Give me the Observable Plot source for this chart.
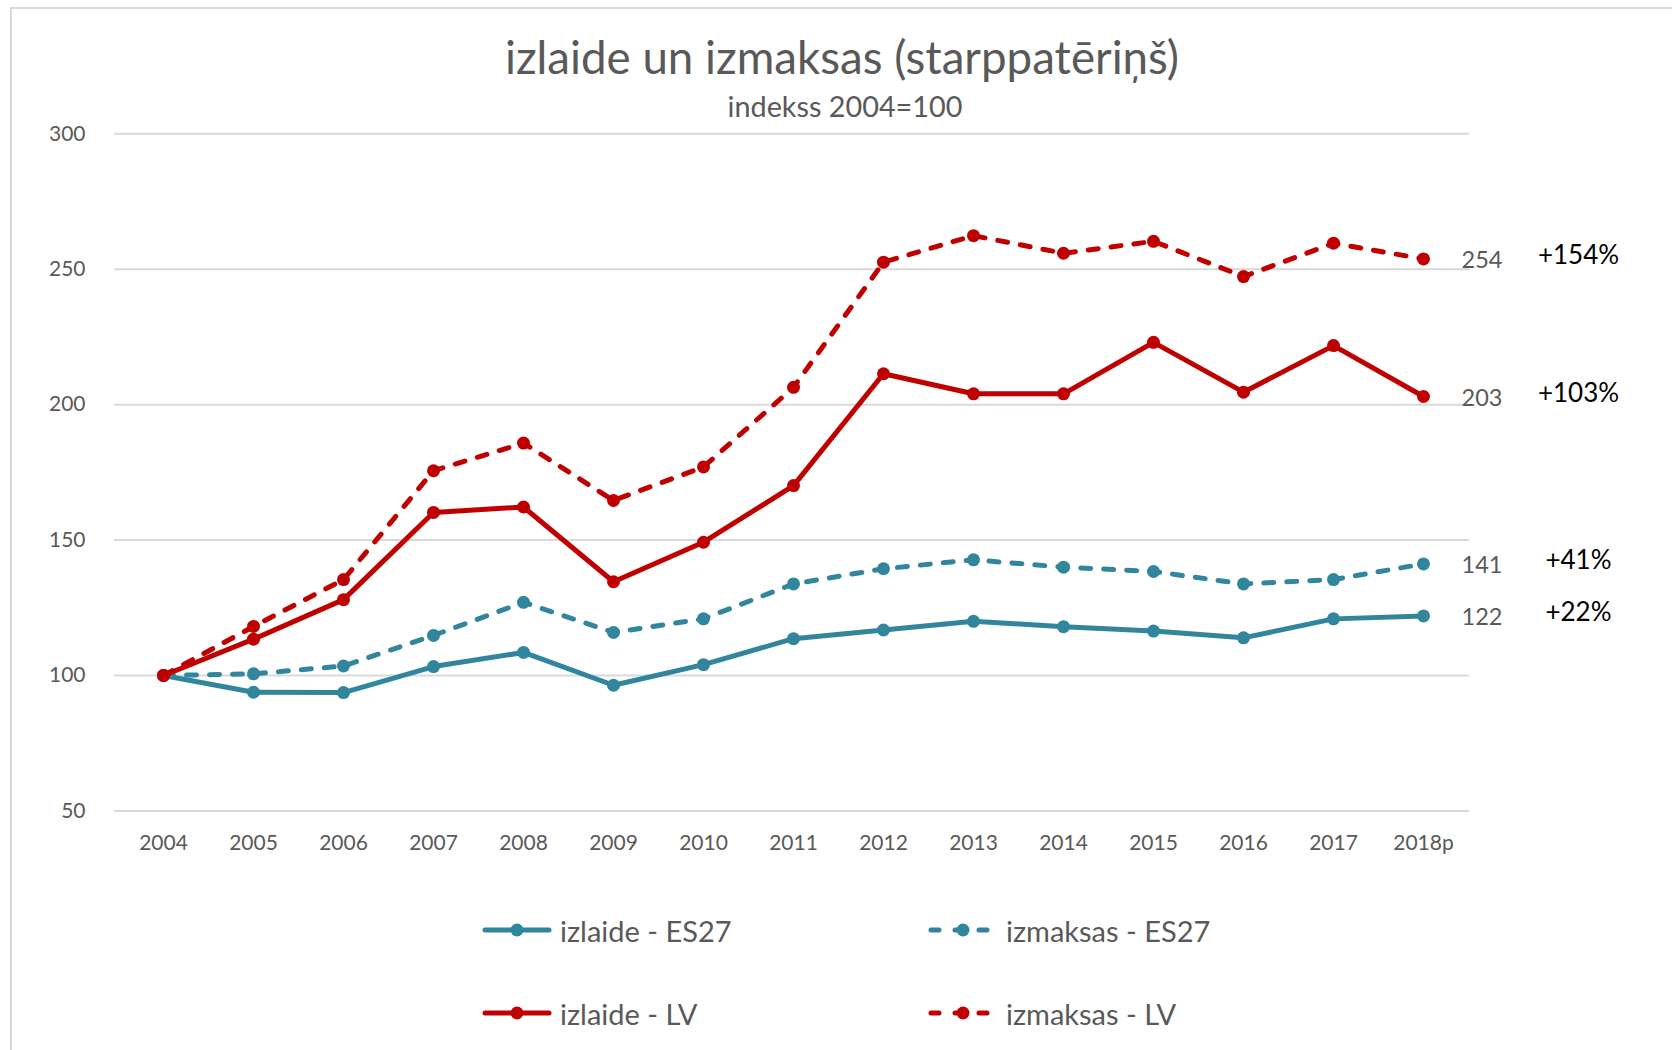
<!DOCTYPE html>
<html>
<head>
<meta charset="utf-8">
<script src="https://cdn.jsdelivr.net/npm/d3@7"></script>
<script src="https://cdn.jsdelivr.net/npm/@observablehq/plot@0.6"></script>
<style>
  html, body { margin: 0; padding: 0; background: #fff; }
  body { width: 1672px; height: 1050px; overflow: hidden; font-family: Lato, "Open Sans", sans-serif; }
  #frame { position: absolute; left: 10px; top: 7px; width: 1800px; height: 1200px;
           border-left: 2px solid #d9d9d9; border-top: 2px solid #d9d9d9; }
  #wrap { position: absolute; left: 0; top: 0; width: 1672px; height: 1050px; }
  #header { position: relative; height: 118px; width: 1672px; }
  #title { position: absolute; left: 0; width: 1684px; top: 35px; text-align: center;
           font-size: 45.7px; line-height: 44px; color: #595959; }
  #subtitle { position: absolute; left: 0; width: 1690px; top: 92px; text-align: center;
              font-size: 28.8px; line-height: 28px; color: #595959; }
  #chart svg { display: block; }
  .leg { position: absolute; display: flex; align-items: center; font-size: 29px; color: #595959; }
  .leg svg { margin-right: 8px; }
</style>
</head>
<body>
<div id="frame"></div>
<div id="wrap">
  <div id="header">
    <div id="title">izlaide un izmaksas (starppatēriņš)</div>
    <div id="subtitle">indekss 2004=100</div>
  </div>
  <div id="chart"></div>
  <div id="legend"></div>
</div>
<script>
const years = ["2004","2005","2006","2007","2008","2009","2010","2011","2012","2013","2014","2015","2016","2017","2018p"];
const izlaideES27  = [100, 93.8, 93.7, 103.3, 108.5, 96.4, 104, 113.6, 116.8, 120, 118, 116.4, 113.9, 120.9, 122];
const izmaksasES27 = [100, 100.6, 103.5, 114.8, 127, 115.9, 120.9, 133.8, 139.4, 142.7, 140, 138.4, 133.8, 135.4, 141.2];
const izlaideLV    = [100, 113.4, 128, 160.2, 162.2, 134.6, 149.2, 170.1, 211.4, 204, 204, 223, 204.6, 221.8, 203];
const izmaksasLV   = [100, 118.1, 135.4, 175.6, 185.8, 164.6, 177, 206.4, 252.6, 262.4, 255.9, 260.3, 247.3, 259.6, 253.8];
const seriesNames  = ["izlaide - ES27", "izmaksas - ES27", "izlaide - LV", "izmaksas - LV"];
const endLabels    = ["122", "141", "203", "254"];
const endChanges   = ["+22%", "+41%", "+103%", "+154%"];
const yTicks = [50, 100, 150, 200, 250, 300];

const teal = "#31859C", red = "#C00000";
const series = [
  {name: seriesNames[0], values: izlaideES27,  color: teal, dash: null},
  {name: seriesNames[1], values: izmaksasES27, color: teal, dash: "10,13"},
  {name: seriesNames[2], values: izlaideLV,    color: red,  dash: null},
  {name: seriesNames[3], values: izmaksasLV,   color: red,  dash: "10,13"}
];
const data = series.flatMap(s => years.map((year, i) => ({name: s.name, year, value: s.values[i]})));
const ends = series.map((s, i) => ({year: years[years.length - 1], value: s.values[s.values.length - 1], label: endLabels[i], change: endChanges[i]}));

const marks = [
  Plot.gridY(yTicks, {stroke: "#d9d9d9", strokeOpacity: 1, strokeWidth: 2}),
  Plot.axisY(yTicks, {tickSize: 0, tickPadding: 29, fontSize: 21, label: null}),
  Plot.axisX({tickSize: 0, tickPadding: 24, fontSize: 21, label: null})
];
for (const s of series) {
  const d = data.filter(r => r.name === s.name);
  marks.push(Plot.line(d, {x: "year", y: "value", stroke: s.color, strokeWidth: 5,
    strokeDasharray: s.dash || undefined, strokeLinecap: "round", strokeLinejoin: "round"}));
  marks.push(Plot.dot(d, {x: "year", y: "value", r: 6.5, fill: s.color, stroke: "none"}));
}
marks.push(Plot.text(ends, {x: "year", y: "value", text: "label", textAnchor: "start", dx: 38, dy: 1.5, fontSize: 23.5, fill: "#595959"}));
marks.push(Plot.text(ends, {x: "year", y: "value", text: "change", textAnchor: "middle", dx: 155, dy: -3, fontSize: 26, fill: "#000"}));

const chart = Plot.plot({
  width: 1672, height: 740,
  marginTop: 15.3, marginBottom: 47.6, marginLeft: 114, marginRight: 203,
  x: {type: "point", domain: years, range: [159.5, 1425.5], padding: 0},
  y: {domain: [50, 300]},
  style: {fontFamily: "Lato, 'Open Sans', sans-serif", color: "#595959", background: "transparent", overflow: "visible"},
  marks
});
document.getElementById("chart").appendChild(chart);

// legend
const legend = document.getElementById("legend");
const legPos = [
  {left: 482, top: 930}, {left: 928, top: 930},
  {left: 482, top: 1013}, {left: 928, top: 1013}
];
series.forEach((s, i) => {
  const item = document.createElement("div");
  item.className = "leg";
  item.style.left = legPos[i].left + "px";
  item.style.top = (legPos[i].top - 20) + "px";
  item.style.height = "40px";
  const ns = "http://www.w3.org/2000/svg";
  const sv = document.createElementNS(ns, "svg");
  sv.setAttribute("width", 70); sv.setAttribute("height", 20);
  const ln = document.createElementNS(ns, "line");
  ln.setAttribute("x1", 3); ln.setAttribute("x2", 67); ln.setAttribute("y1", 10); ln.setAttribute("y2", 10);
  ln.setAttribute("stroke", s.color); ln.setAttribute("stroke-width", 5); ln.setAttribute("stroke-linecap", "round");
  if (s.dash) ln.setAttribute("stroke-dasharray", "8,16");
  const c = document.createElementNS(ns, "circle");
  c.setAttribute("cx", 35); c.setAttribute("cy", 10); c.setAttribute("r", 6.5); c.setAttribute("fill", s.color);
  sv.appendChild(ln); sv.appendChild(c);
  item.appendChild(sv);
  const t = document.createElement("span");
  t.textContent = s.name;
  item.appendChild(t);
  legend.appendChild(item);
});
</script>
</body>
</html>
